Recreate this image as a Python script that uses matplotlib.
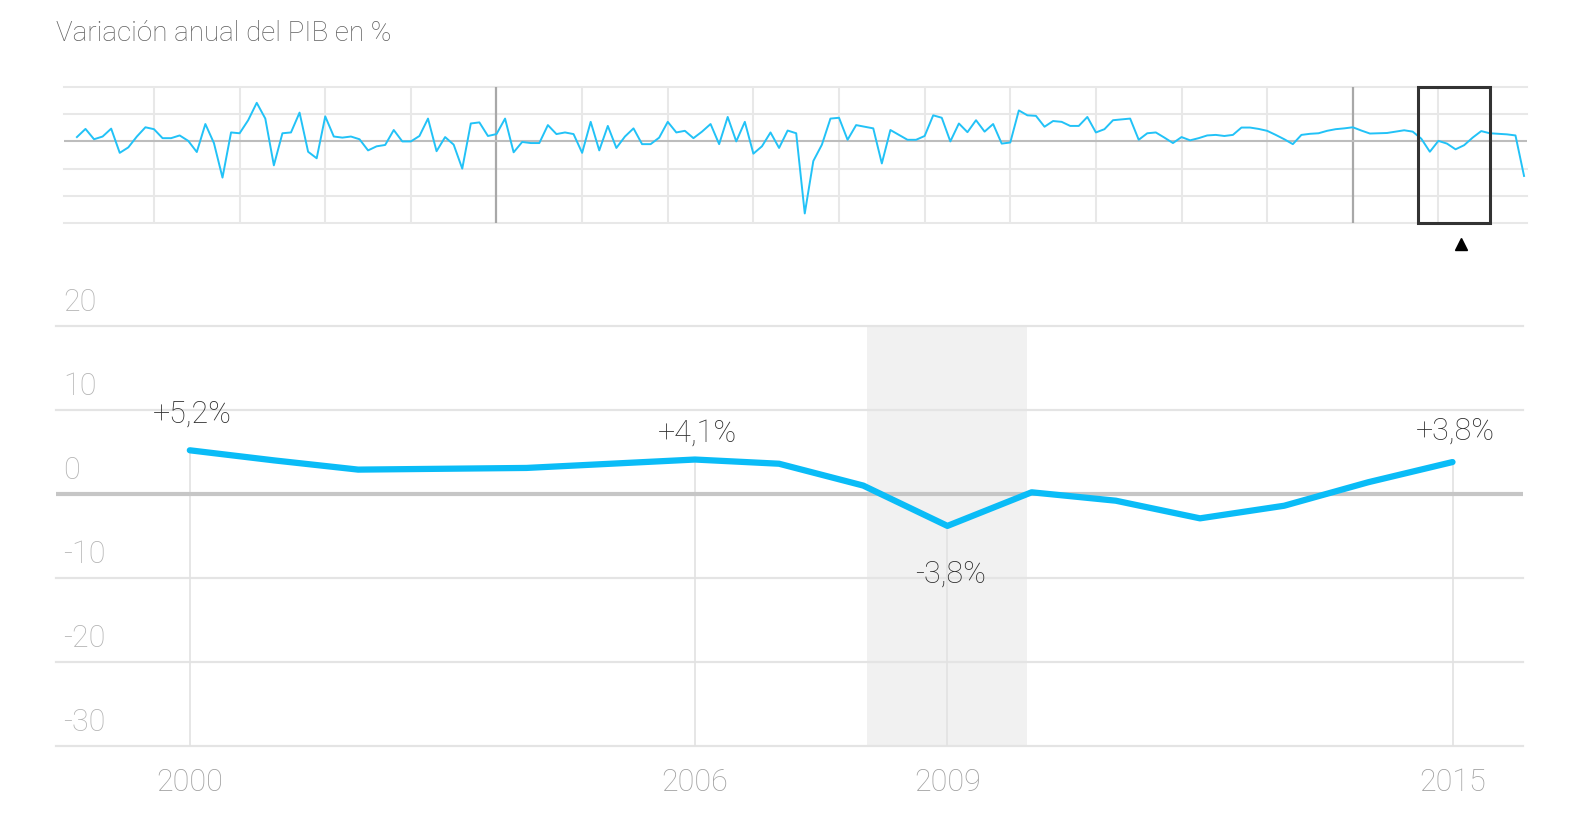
import matplotlib
matplotlib.use("Agg")
import matplotlib.pyplot as plt
import matplotlib.transforms as mtransforms
from matplotlib.patches import Rectangle

plt.rcParams['font.family'] = ['Roboto', 'DejaVu Sans']

# variacion anual del PIB (%), 1851-2020, una fila por decada
years = list(range(1851, 2021))
pib = [
    1.6, 4.6, 0.8, 1.8, 4.7, -4.2, -2.2, 1.8, 5.2, 4.5,      # 1851-1860
    1.2, 1.2, 2.2, 0.2, -3.9, 6.4, -0.6, -13.3, 3.3, 3.0,    # 1861-1870
    7.8, 14.2, 8.4, -8.8, 3.0, 3.3, 10.6, -3.8, -6.2, 9.2,   # 1871-1880
    1.8, 1.4, 1.8, 0.8, -3.3, -1.8, -1.3, 4.2, 0.0, 0.0,     # 1881-1890
    2.0, 8.4, -3.6, 1.6, -1.2, -10.0, 6.6, 7.0, 2.0, 2.7,    # 1891-1900
    8.4, -4.0, -0.2, -0.6, -0.6, 6.0, 2.7, 3.3, 2.7, -4.2,   # 1901-1910
    7.2, -3.3, 5.7, -2.4, 1.8, 4.8, -1.0, -1.0, 1.4, 7.2,    # 1911-1920
    3.3, 3.9, 1.2, 3.6, 6.4, -1.0, 9.0, 0.0, 7.2, -4.5,      # 1921-1930
    -1.8, 3.3, -2.4, 4.0, 3.0, -26.5, -7.2, -1.2, 8.4, 8.7,  # 1931-1940
    0.6, 6.0, 5.4, 4.8, -8.1, 4.2, 2.4, 0.6, 0.6, 2.0,       # 1941-1950
    9.6, 8.7, 0.0, 6.6, 3.4, 7.8, 3.6, 6.4, -0.8, -0.4,      # 1951-1960
    11.4, 9.6, 9.4, 5.4, 7.5, 7.2, 5.7, 5.7, 9.0, 3.3,       # 1961-1970
    4.5, 7.8, 8.1, 8.4, 0.6, 3.0, 3.3, 1.4, -0.6, 1.6,       # 1971-1980
    0.4, 1.2, 2.2, 2.4, 2.0, 2.4, 5.1, 5.1, 4.6, 3.9,        # 1981-1990
    2.4, 0.8, -1.0, 2.4, 2.8, 3.0, 3.9, 4.5, 4.8, 5.2,       # 1991-2000
    4.0, 2.9, 3.0, 3.1, 3.6, 4.1, 3.6, 1.0, -3.8, 0.2,       # 2001-2010
    -0.8, -2.9, -1.4, 1.4, 3.8, 3.0, 2.8, 2.6, 2.2, -12.7,   # 2011-2020
]

main_start, main_end = 2000, 2015
label_years = [2000, 2006, 2009, 2015]
label_dy = [27, 20, -34, 23]      # desplazamiento vertical de cada etiqueta (pt)
y_ticks = [20, 10, 0, -10, -20, -30]
crisis = (2008.05, 2009.95)
window = (2007.6, 2016.0)

blue = '#0abcf7'
fs = 22

fig = plt.figure(figsize=(15.9, 8.29), dpi=100)
fig.text(0.035, 0.9596, 'Variación anual del PIB en %', fontsize=20,
         color='#606060', va='center', ha='left', fontweight='light')

# ---- vista general ----
ov = fig.add_axes([0.0403, 0.7298, 0.9201, 0.1640])
ov.set_xlim(1849.5, 2020.35)
ov.set_ylim(-30, 20)
for v in [20, 10, -10, -20, -30]:
    ov.axhline(v, color='#e8e8e8', lw=1.5, zorder=1, clip_on=False)
ov.axhline(0, color='#bdbdbd', lw=1.5, zorder=2)
for d in range(1860, 2020, 10):
    dark = d in (1900, 2000)
    ov.axvline(d, color='#a8a8a8' if dark else '#e8e8e8', lw=1.6 if dark else 1.5, zorder=1)
ov.plot(years, pib, color='#22c2f7', lw=1.4, zorder=3)
ov.add_patch(Rectangle((window[0], -30), window[1] - window[0], 50, fill=False,
                       ec='#333333', lw=2.2, zorder=4, clip_on=False))
trans = mtransforms.blended_transform_factory(ov.transData, ov.transAxes)
ov.plot([(window[0] + window[1]) / 2 + 0.8], [-0.155], marker='^', color='black',
        markersize=8, transform=trans, clip_on=False)
ov.set_xticks([])
ov.set_yticks([])
for s in ov.spines.values():
    s.set_visible(False)

# ---- grafico principal ----
ax = fig.add_axes([0.0352, 0.0989, 0.9228, 0.5067])
sel = [i for i, y in enumerate(years) if main_start <= y <= main_end]
yrs = [years[i] for i in sel]
vals = [pib[i] for i in sel]

ax.set_xlim(1998.41, 2015.84)
ax.set_ylim(-30, 20)
ax.axvspan(crisis[0], crisis[1], color='#f1f1f1', zorder=0, lw=0)
for v in y_ticks:
    if v != 0:
        ax.axhline(v, color='#e4e4e4', lw=1.6, zorder=1, clip_on=False)
    ax.annotate(str(v), xy=(0, v), xycoords=('axes fraction', 'data'),
                xytext=(5, 7), textcoords='offset points', ha='left', va='bottom',
                fontsize=fs, color='#b4b4b4', fontweight='light')

lab_vals = [pib[years.index(y)] for y in label_years]
ax.vlines(label_years, -30, lab_vals, color='#e2e2e2', lw=1.2, zorder=1)
ax.axhline(0, color='#c6c6c6', lw=3, zorder=2)
ax.plot(yrs, vals, color=blue, lw=4.5, zorder=3,
        solid_joinstyle='round', solid_capstyle='round')

for y, v, dy in zip(label_years, lab_vals, label_dy):
    txt = f'{v:+.1f}%'.replace('.', ',')
    ax.annotate(txt, xy=(y, v), xytext=(2, dy), textcoords='offset points',
                ha='center', va='center', fontsize=fs, color='#2e2e2e',
                fontweight='light', zorder=5)

ax.set_yticks([])
ax.set_xticks(label_years)
ax.set_xticklabels([str(y) for y in label_years], fontweight='light')
ax.tick_params(axis='x', length=0, pad=15, labelsize=fs, labelcolor='#a0a0a0')
for s in ax.spines.values():
    s.set_visible(False)

fig.savefig('out.png', dpi=100)
